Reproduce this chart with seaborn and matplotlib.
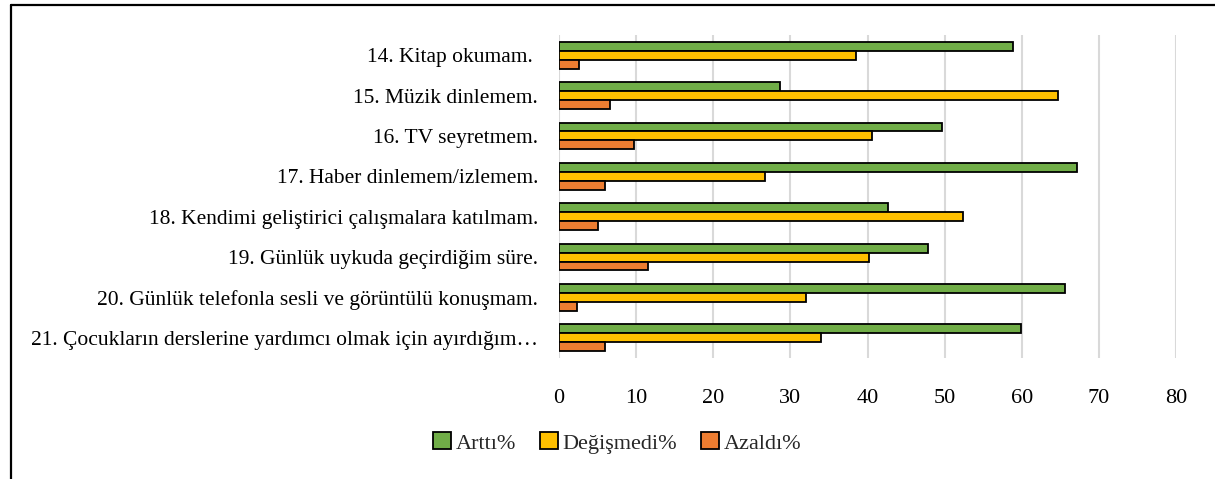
import matplotlib

matplotlib.use("Agg")
import pandas as pd
import seaborn as sns
from matplotlib import pyplot as plt
from matplotlib.lines import Line2D
from matplotlib.patches import Patch

# Chart data
items = [
    "14. Kitap okumam. ",
    "15. Müzik dinlemem.",
    "16. TV seyretmem.",
    "17. Haber dinlemem/izlemem.",
    "18. Kendimi geliştirici çalışmalara katılmam.",
    "19. Günlük uykuda geçirdiğim süre.",
    "20. Günlük telefonla sesli ve görüntülü konuşmam.",
    "21. Çocukların derslerine yardımcı olmak için ayırdığım…",
]
series = ["Arttı%", "Değişmedi%", "Azaldı%"]
artti = [58.9, 28.7, 49.7, 67.1, 42.6, 47.9, 65.6, 59.9]
degismedi = [38.5, 64.7, 40.6, 26.7, 52.4, 40.2, 32.0, 34.0]
azaldi = [2.6, 6.6, 9.7, 6.0, 5.0, 11.6, 2.3, 5.9]
x_ticks = [0, 10, 20, 30, 40, 50, 60, 70, 80]

colors = ["#70AD47", "#FFC000", "#ED7D31"]

sns.set_style("white")
plt.rcParams["font.family"] = ["Liberation Serif", "DejaVu Serif"]

df = pd.DataFrame(
    {
        "item": items * 3,
        "series": [series[0]] * 8 + [series[1]] * 8 + [series[2]] * 8,
        "value": artti + degismedi + azaldi,
    }
)

fig = plt.figure(figsize=(12.15, 4.79), dpi=100)
ax = fig.add_axes([559 / 1215, 1 - 358 / 479, 617 / 1215, 323 / 479])

sns.barplot(
    data=df,
    y="item",
    x="value",
    hue="series",
    hue_order=series,
    order=items,
    orient="h",
    palette=colors,
    saturation=1,
    edgecolor="black",
    linewidth=1.3,
    width=0.66,
    legend=False,
    ax=ax,
)

ax.set_xlim(0, 80)
ax.set_ylim(7.5, -0.5)
ax.set_xticks(x_ticks)
ax.set_xlabel("")
ax.set_ylabel("")
ax.xaxis.grid(True, color="#d9d9d9", linewidth=1.5)
ax.set_axisbelow(True)
for s in ax.spines.values():
    s.set_visible(False)
ax.tick_params(axis="x", length=0, pad=22, labelsize=16, colors="#000000")
ax.tick_params(axis="y", length=0, pad=15, labelsize=15.5, colors="#000000")

handles = [Patch(facecolor=c, edgecolor="black", linewidth=1.3) for c in colors]
fig.legend(
    handles,
    series,
    loc="center",
    bbox_to_anchor=(0.508, 1 - 443 / 479),
    ncol=3,
    frameon=False,
    fontsize=16,
    handlelength=0.8,
    handleheight=0.8,
    handletextpad=0.2,
    columnspacing=1.1,
)

# chart frame (only top and left edges are visible in the crop)
fig.add_artist(Line2D([11 / 1215, 1], [1 - 5 / 479, 1 - 5 / 479], color="black", linewidth=1.6))
fig.add_artist(Line2D([11 / 1215, 11 / 1215], [0, 1 - 5 / 479], color="black", linewidth=1.6))

fig.savefig("out.png", dpi=100)
